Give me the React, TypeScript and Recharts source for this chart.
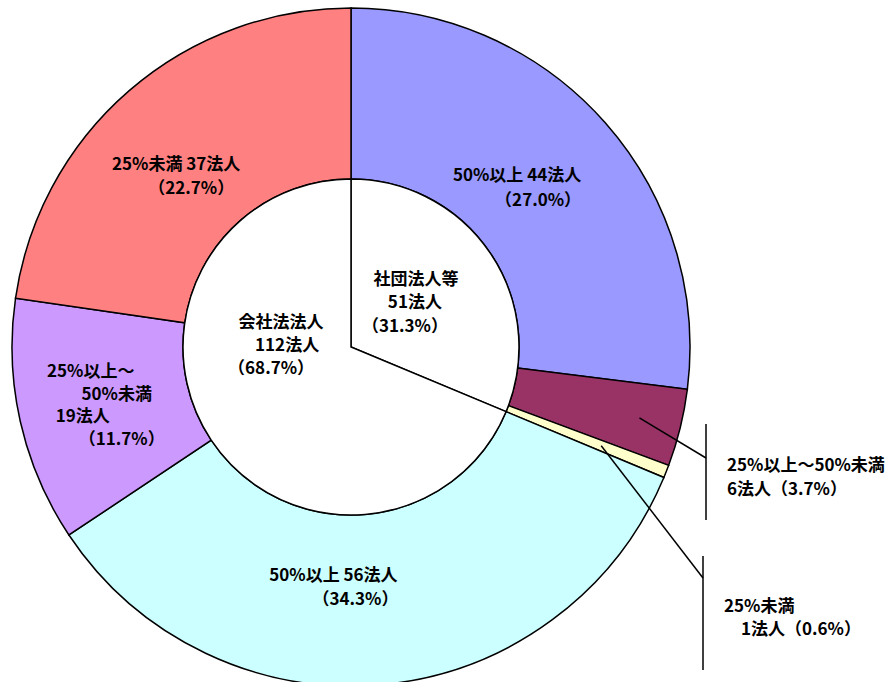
import { PieChart, Pie, Cell } from "recharts";

// 外側：議決権保有割合別の内訳
const outerNames = ["50%以上", "25%以上～50%未満", "25%未満", "50%以上", "25%以上～50%未満", "25%未満"];
const outerCounts = [44, 6, 1, 56, 19, 37];
const outerShares = ["27.0", "3.7", "0.6", "34.3", "11.7", "22.7"];
const outerColors = ["#9999FF", "#993366", "#FFFFCC", "#CCFFFF", "#CC99FF", "#FF8080"];

// 内側：法人区分
const innerNames = ["社団法人等", "会社法法人"];
const innerCounts = [51, 112];
const innerShares = ["31.3", "68.7"];

const outerData = outerNames.map((name, i) => ({ name, value: outerCounts[i], share: outerShares[i] }));
const innerData = innerNames.map((name, i) => ({ name, value: innerCounts[i], share: innerShares[i] }));

const RADIAN = Math.PI / 180;
const CX = 351;
const CY = 347;
const R_IN = 168;
const R_OUT = 339;

const font = {
  fontFamily: "'Noto Sans CJK JP', 'Noto Sans', sans-serif",
  fontSize: 17,
  fontWeight: 700,
  fill: "#000",
};

// line offsets from the slice's mid point (dx, dy)
const outerOffsets: Record<number, [number, number][]> = {
  0: [[-24, -6], [-3, 19]],
  3: [[-42, -26], [-20, -2]],
  4: [[-13, -33], [13, -10], [-21, 12], [18, 35]],
  5: [[-9, 7], [6, 31]],
};

const innerOffsets: [number, number][][] = [
  [[-5, -23], [-6, 0], [-16, 24]],
  [[0, -73], [6, -50], [-10, -27]],
];

// leader lines for the thin slices: start radius, end point, bar, text (relative to centre)
const callouts: Record<number, { r: number; end: [number, number]; bar: [number, number]; text: [number, number][] }> = {
  1: { r: 297, end: [355, 111], bar: [77, 173], text: [[376, 116], [376, 140]] },
  2: { r: 269, end: [352, 231], bar: [209, 323], text: [[373, 257], [390, 280]] },
};

function outerLines(i: number) {
  const d = outerData[i];
  if (i === 4) {
    const [a, b] = d.name.split("～");
    return [a + "～", b, `${d.value}法人`, `（${d.share}%）`];
  }
  if (callouts[i]) return [d.name, `${d.value}法人（${d.share}%）`];
  return [`${d.name} ${d.value}法人`, `（${d.share}%）`];
}

function renderOuterLabel(props: any) {
  const { cx, cy, midAngle, innerRadius, outerRadius, index } = props;
  const lines = outerLines(index);
  const c = callouts[index];
  if (c) {
    const sx = cx + c.r * Math.cos(-midAngle * RADIAN);
    const sy = cy + c.r * Math.sin(-midAngle * RADIAN);
    const ex = cx + c.end[0];
    const ey = cy + c.end[1];
    return (
      <g key={`o-${index}`}>
        <line x1={sx} y1={sy} x2={ex} y2={ey} stroke="#000" strokeWidth={1.5} />
        <line x1={ex} y1={cy + c.bar[0]} x2={ex} y2={cy + c.bar[1]} stroke="#000" strokeWidth={1.5} />
        {lines.map((t, k) => (
          <text key={k} x={cx + c.text[k][0]} y={cy + c.text[k][1]} textAnchor="start" dominantBaseline="central" {...font}>
            {t}
          </text>
        ))}
      </g>
    );
  }
  const r = (innerRadius + outerRadius) / 2;
  const mx = cx + r * Math.cos(-midAngle * RADIAN);
  const my = cy + r * Math.sin(-midAngle * RADIAN);
  const offs = outerOffsets[index];
  return (
    <g key={`o-${index}`}>
      {lines.map((t, k) => (
        <text key={k} x={mx + offs[k][0]} y={my + offs[k][1]} textAnchor="middle" dominantBaseline="central" {...font}>
          {t}
        </text>
      ))}
    </g>
  );
}

function renderInnerLabel(props: any) {
  const { cx, cy, midAngle, outerRadius, index } = props;
  const d = innerData[index];
  const lines = [d.name, `${d.value}法人`, `（${d.share}%）`];
  const r = outerRadius / 2;
  const mx = cx + r * Math.cos(-midAngle * RADIAN);
  const my = cy + r * Math.sin(-midAngle * RADIAN);
  const offs = innerOffsets[index];
  return (
    <g key={`i-${index}`}>
      {lines.map((t, k) => (
        <text key={k} x={mx + offs[k][0]} y={my + offs[k][1]} textAnchor="middle" dominantBaseline="central" {...font}>
          {t}
        </text>
      ))}
    </g>
  );
}

export default function App() {
  return (
    <div style={{ position: "absolute", left: 0, top: 0, background: "#fff" }}>
      <PieChart width={888} height={682} margin={{ top: 0, right: 0, bottom: 0, left: 0 }}>
        <Pie
          data={outerData}
          dataKey="value"
          cx={CX}
          cy={CY}
          innerRadius={R_IN}
          outerRadius={R_OUT}
          startAngle={90}
          endAngle={-270}
          label={renderOuterLabel}
          labelLine={false}
          isAnimationActive={false}
        >
          {outerData.map((d, i) => (
            <Cell key={i} fill={outerColors[i]} stroke="#000" strokeWidth={1.5} />
          ))}
        </Pie>
        <Pie
          data={innerData}
          dataKey="value"
          cx={CX}
          cy={CY}
          innerRadius={0}
          outerRadius={R_IN}
          startAngle={90}
          endAngle={-270}
          label={renderInnerLabel}
          labelLine={false}
          isAnimationActive={false}
        >
          {innerData.map((d, i) => (
            <Cell key={i} fill="#fff" stroke="#000" strokeWidth={1.5} />
          ))}
        </Pie>
      </PieChart>
    </div>
  );
}
